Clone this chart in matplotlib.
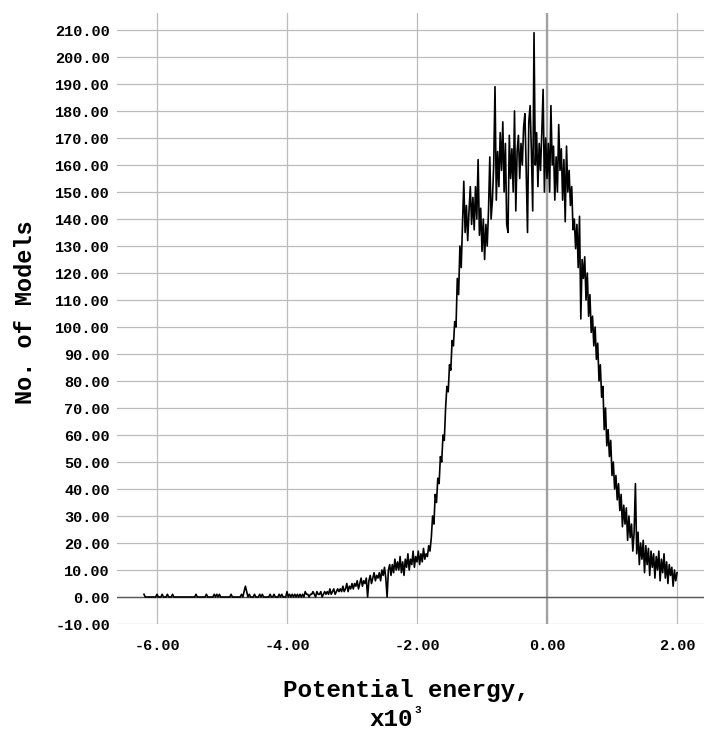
import numpy as np
import matplotlib
matplotlib.use("Agg")
import matplotlib.pyplot as plt

# histogram of potential energy (x10^3), bins of 0.02 starting at -6.20
bin_start = -6.20
bin_width = 0.02

# -6.20 .. -3.60 : sparse tail
tail_counts = [
    1, 0, 0, 0, 0, 0, 0, 0, 0, 0,
    1, 0, 0, 0, 1, 0, 0, 0, 1, 0,
    0, 0, 1, 0, 0, 0, 0, 0, 0, 0,
    0, 0, 0, 0, 0, 0, 0, 0, 0, 0,
    1, 0, 0, 0, 0, 0, 0, 0, 1, 0,
    0, 0, 0, 0, 1, 0, 1, 0, 1, 0,
    0, 0, 0, 0, 0, 0, 0, 1, 0, 0,
    0, 0, 0, 0, 0, 1, 0, 2, 4, 2,
    0, 1, 0, 0, 0, 1, 0, 0, 0, 1,
    0, 1, 0, 0, 0, 0, 0, 1, 0, 0,
    1, 0, 0, 0, 1, 0, 1, 0, 0, 0,
    2, 0, 1, 0, 1, 0, 1, 0, 1, 0,
    1, 0, 1, 0, 2, 1, 1, 0, 1, 1,
    2,
]
# -3.58 .. -2.30 : slow rise
low_counts = [
    1, 0, 2, 1, 1, 2, 0, 1, 2, 1,
    2, 1, 3, 1, 2, 3, 1, 2, 3, 2,
    3, 2, 4, 2, 3, 5, 2, 4, 3, 5,
    3, 5, 4, 6, 3, 5, 7, 4, 6, 5,
    7, 0, 6, 8, 5, 7, 9, 6, 8, 7,
    9, 6, 10, 8, 11, 7, 0, 10, 12, 8,
    12, 9, 14, 10, 13,
]
# -2.28 .. -1.80 : shoulder
shoulder_counts = [10, 15, 9, 13, 8, 14, 11, 16, 10, 14, 12, 17, 11,
                   15, 13, 17, 12, 16, 13, 18, 14, 16, 15, 19, 17]
# -1.78 .. -1.30 : steep rise
rise_counts = [22, 30, 27, 38, 35, 44, 42, 52, 50, 60, 58, 70, 78,
               76, 86, 84, 95, 93, 102, 100, 118, 112, 130, 122, 138]
# -1.28 .. 0.54 : peak
peak_counts = [
    154, 135, 145, 132, 143, 152, 138, 148, 136, 152,
    140, 162, 134, 144, 128, 140, 125, 138, 130, 143,
    163, 140, 147, 160, 189, 147, 165, 152, 172, 158,
    176, 150, 168, 138, 135, 171, 155, 166, 150, 180,
    143, 165, 171, 155, 168, 160, 174, 179, 158, 135,
    176, 182, 165, 143, 209, 160, 172, 152, 168, 158,
    172, 188, 150, 170, 155, 168, 150, 182, 160, 167,
    147, 163, 150, 175, 158, 166, 147, 162, 139, 167,
    150, 158, 145, 152, 136, 140, 129, 138, 122, 141,
    103, 125,
]
# 0.56 .. 2.00 : fall
fall_counts = [
    118, 126, 110, 120, 104, 112, 98, 104, 93, 100,
    88, 94, 80, 86, 74, 78, 62, 70, 56, 62,
    52, 58, 45, 50, 40, 45, 36, 42, 32, 38,
    26, 34, 27, 33, 21, 30, 22, 27, 17, 24,
    42, 16, 24, 12, 20, 14, 21, 9, 19, 12,
    18, 8, 17, 11, 16, 7, 15, 10, 17, 6,
    14, 9, 16, 7, 13, 5, 12, 8, 11, 4,
    10, 6, 9,
]

x_ticks = [-6, -4, -2, 0, 2]
y_ticks = list(range(-10, 211, 10))

counts = np.array(tail_counts + low_counts + shoulder_counts
                  + rise_counts + peak_counts + fall_counts)
energy = bin_start + bin_width * np.arange(len(counts))

plt.rcParams['font.family'] = ['Liberation Mono', 'DejaVu Sans']
plt.rcParams['font.weight'] = 'bold'

W, H = 704, 732
fig = plt.figure(figsize=(W / 100, H / 100), dpi=100)
ax = fig.add_axes([117 / W, 108 / H, 587 / W, 611 / H])

ax.set_xlim(-6.615, 2.415)
ax.set_ylim(-10, 216.3)
ax.set_xticks(x_ticks)
ax.set_xticklabels(['%.2f' % v for v in x_ticks])
ax.set_yticks(y_ticks)
ax.set_yticklabels(['%.2f' % v for v in y_ticks])
ax.tick_params(axis='both', length=0, labelsize=11)
ax.tick_params(axis='y', pad=5)
ax.tick_params(axis='x', pad=11)
for s in ax.spines.values():
    s.set_visible(False)

ax.grid(True, color='#bcbcbc', linewidth=0.9)
ax.set_axisbelow(True)
ax.axvline(0, color='#a0a0a0', linewidth=1.6, zorder=1)
ax.axhline(0, color='#5a5a5a', linewidth=1.0, zorder=1)

ax.plot(energy, counts, color='black', linewidth=1.2, zorder=3)

# axis titles
fig.text(406 / W, 1 - 690 / H, 'Potential energy,', ha='center', va='center',
         fontsize=17.5, fontweight='bold')
fig.text(391 / W, 1 - 720 / H, 'x10', ha='center', va='center',
         fontsize=17.5, fontweight='bold')
fig.text(414 / W, 1 - 710 / H, '3', ha='left', va='center',
         fontsize=8, fontweight='bold')
fig.text(25 / W, 1 - 312 / H, 'No. of Models', ha='center', va='center',
         rotation=90, fontsize=17, fontweight='bold')

fig.savefig('out.png', dpi=100, facecolor='white')
